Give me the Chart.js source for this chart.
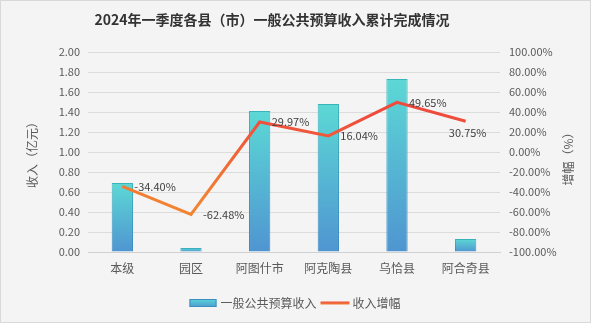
<!DOCTYPE html>
<html lang="zh-CN">
<head>
    <meta charset="UTF-8">
    <title>2024年一季度各县（市）一般公共预算收入累计完成情况</title>
    <script src="https://cdn.jsdelivr.net/npm/chart.js"></script>
    <style>
        html, body {
            margin: 0;
            padding: 0;
            background: #f4f4f4;
        }
        .wrap {
            width: 591px;
            height: 323px;
        }
    </style>
</head>
<body>
    <div class="wrap">
        <canvas id="revenueChart" width="591" height="323"></canvas>
    </div>

    <script>
        const chartTitle = "2024年一季度各县（市）一般公共预算收入累计完成情况";
        const counties = ["本级", "园区", "阿图什市", "阿克陶县", "乌恰县", "阿合奇县"];
        const revenue = [0.69, 0.04, 1.41, 1.48, 1.73, 0.13];      // 亿元
        const growth = [-34.40, -62.48, 29.97, 16.04, 49.65, 30.75]; // %
        const revenueLabel = "一般公共预算收入";
        const growthLabel = "收入增幅";
        const leftAxisTitle = "收入（亿元）";
        const rightAxisTitle = "增幅（%）";

        const FONT = '"Noto Sans CJK SC", "Noto Sans", sans-serif';

        function barFill(context, topColor, bottomColor) {
            const chart = context.chart;
            if (!chart.chartArea || context.type !== "data") return bottomColor;
            const y = chart.scales.y;
            const top = y.getPixelForValue(context.raw);
            const base = y.getPixelForValue(0);
            const g = chart.ctx.createLinearGradient(0, top, 0, base);
            g.addColorStop(0, topColor);
            g.addColorStop(1, bottomColor);
            return g;
        }

        function lineStroke(context) {
            const chart = context.chart;
            if (!chart.chartArea) return "#f05a38";
            const y1 = chart.scales.y1;
            const g = chart.ctx.createLinearGradient(0, y1.getPixelForValue(40), 0, y1.getPixelForValue(-50));
            g.addColorStop(0, "#ee4a3d");
            g.addColorStop(1, "#f28331");
            return g;
        }

        // background, frame, title and right axis caption
        const frame = {
            id: "frame",
            beforeDraw(chart) {
                const ctx = chart.ctx;
                ctx.save();
                ctx.fillStyle = "#f4f4f4";
                ctx.fillRect(0, 0, chart.width, chart.height);
                ctx.strokeStyle = "#d9d9d9";
                ctx.lineWidth = 1;
                ctx.strokeRect(0.5, 0.5, chart.width - 1, chart.height - 1);
                ctx.fillStyle = "#333333";
                ctx.font = "bold 14px " + FONT;
                ctx.textAlign = "center";
                ctx.textBaseline = "middle";
                ctx.fillText(chartTitle, 272, 20);

                // the right caption reads bottom-to-top like the left one
                const area = chart.chartArea;
                ctx.translate(568, (area.top + area.bottom) / 2 + 4);
                ctx.rotate(-Math.PI / 2);
                ctx.fillStyle = "#595959";
                ctx.font = "12px " + FONT;
                ctx.fillText(rightAxisTitle, 0, 0);
                ctx.restore();
            }
        };

        // percentage labels next to the growth line
        const pointLabels = {
            id: "pointLabels",
            afterDatasetsDraw(chart) {
                const ctx = chart.ctx;
                const meta = chart.getDatasetMeta(1);
                ctx.save();
                ctx.font = "11px " + FONT;
                ctx.fillStyle = "#404040";
                ctx.textBaseline = "middle";
                meta.data.forEach(function(pt, i) {
                    const text = growth[i].toFixed(2) + "%";
                    if (i === meta.data.length - 1) {
                        ctx.textAlign = "center";
                        ctx.fillText(text, pt.x + 2, pt.y + 12);
                    } else {
                        ctx.textAlign = "left";
                        ctx.fillText(text, pt.x + 12, pt.y);
                    }
                });
                ctx.restore();
            }
        };

        // legend drawn under the axis
        const bottomLegend = {
            id: "bottomLegend",
            afterDraw(chart) {
                const ctx = chart.ctx;
                ctx.save();
                ctx.font = "12px " + FONT;
                ctx.textBaseline = "middle";
                ctx.textAlign = "left";
                const w1 = ctx.measureText(revenueLabel).width;
                const w2 = ctx.measureText(growthLabel).width;
                const total = 27 + 4 + w1 + 4 + 29 + 3 + w2;
                let x = 295 - total / 2;
                const y = 303;

                const g = ctx.createLinearGradient(0, y - 4, 0, y + 4);
                g.addColorStop(0, "#5ad6d6");
                g.addColorStop(1, "#4f9ad2");
                ctx.fillStyle = g;
                ctx.fillRect(x, y - 4, 27, 8);
                ctx.strokeStyle = "#3a8fc0";
                ctx.lineWidth = 1;
                ctx.strokeRect(x + 0.5, y - 3.5, 26, 7);
                x += 31;
                ctx.fillStyle = "#595959";
                ctx.fillText(revenueLabel, x, y);
                x += w1 + 4;

                const lg = ctx.createLinearGradient(0, y - 2, 0, y + 2);
                lg.addColorStop(0, "#ee4a3d");
                lg.addColorStop(1, "#f28331");
                ctx.fillStyle = lg;
                ctx.fillRect(x, y - 1.5, 29, 3);
                x += 32;
                ctx.fillStyle = "#595959";
                ctx.fillText(growthLabel, x, y);
                ctx.restore();
            }
        };

        new Chart(document.getElementById("revenueChart"), {
            type: "bar",
            data: {
                labels: counties,
                datasets: [
                    {
                        type: "bar",
                        label: revenueLabel,
                        data: revenue,
                        yAxisID: "y",
                        backgroundColor: function(c) { return barFill(c, "#5cd8d5", "#4f95d1"); },
                        borderColor: function(c) { return barFill(c, "#38b5b9", "#3a86c2"); },
                        borderWidth: 1,
                        borderSkipped: "bottom",
                        categoryPercentage: 1,
                        barPercentage: 0.31,
                        order: 2
                    },
                    {
                        type: "line",
                        label: growthLabel,
                        data: growth,
                        yAxisID: "y1",
                        borderColor: lineStroke,
                        borderWidth: 3,
                        pointRadius: 0,
                        tension: 0,
                        fill: false,
                        order: 1
                    }
                ]
            },
            options: {
                responsive: false,
                animation: false,
                layout: { padding: { left: 20, right: 10, top: 52, bottom: 0 } },
                plugins: {
                    legend: { display: false },
                    tooltip: { enabled: false }
                },
                scales: {
                    x: {
                        grid: { display: false, drawTicks: false },
                        border: { display: true, color: "#d0d0d0" },
                        ticks: { color: "#595959", font: { family: FONT, size: 12 }, padding: 9 },
                        afterFit: function(s) { s.height = 71; }
                    },
                    y: {
                        position: "left",
                        min: 0,
                        max: 2,
                        grid: { color: "#dcdcdc", drawTicks: false },
                        border: { display: false },
                        ticks: {
                            stepSize: 0.2,
                            padding: 8,
                            color: "#595959",
                            font: { family: FONT, size: 11 },
                            callback: function(v) { return v.toFixed(2); }
                        },
                        title: {
                            display: true,
                            text: leftAxisTitle,
                            color: "#595959",
                            font: { family: FONT, size: 12 },
                            padding: { top: 5, bottom: 0 }
                        },
                        afterFit: function(s) { s.width = 68; }
                    },
                    y1: {
                        position: "right",
                        min: -100,
                        max: 100,
                        grid: { display: false, drawTicks: false },
                        border: { display: false },
                        ticks: {
                            stepSize: 20,
                            padding: 9,
                            color: "#595959",
                            font: { family: FONT, size: 11 },
                            callback: function(v) { return v.toFixed(2) + "%"; }
                        },
                        afterFit: function(s) { s.width = 81; }
                    }
                }
            },
            plugins: [frame, pointLabels, bottomLegend]
        });
    </script>
</body>
</html>
